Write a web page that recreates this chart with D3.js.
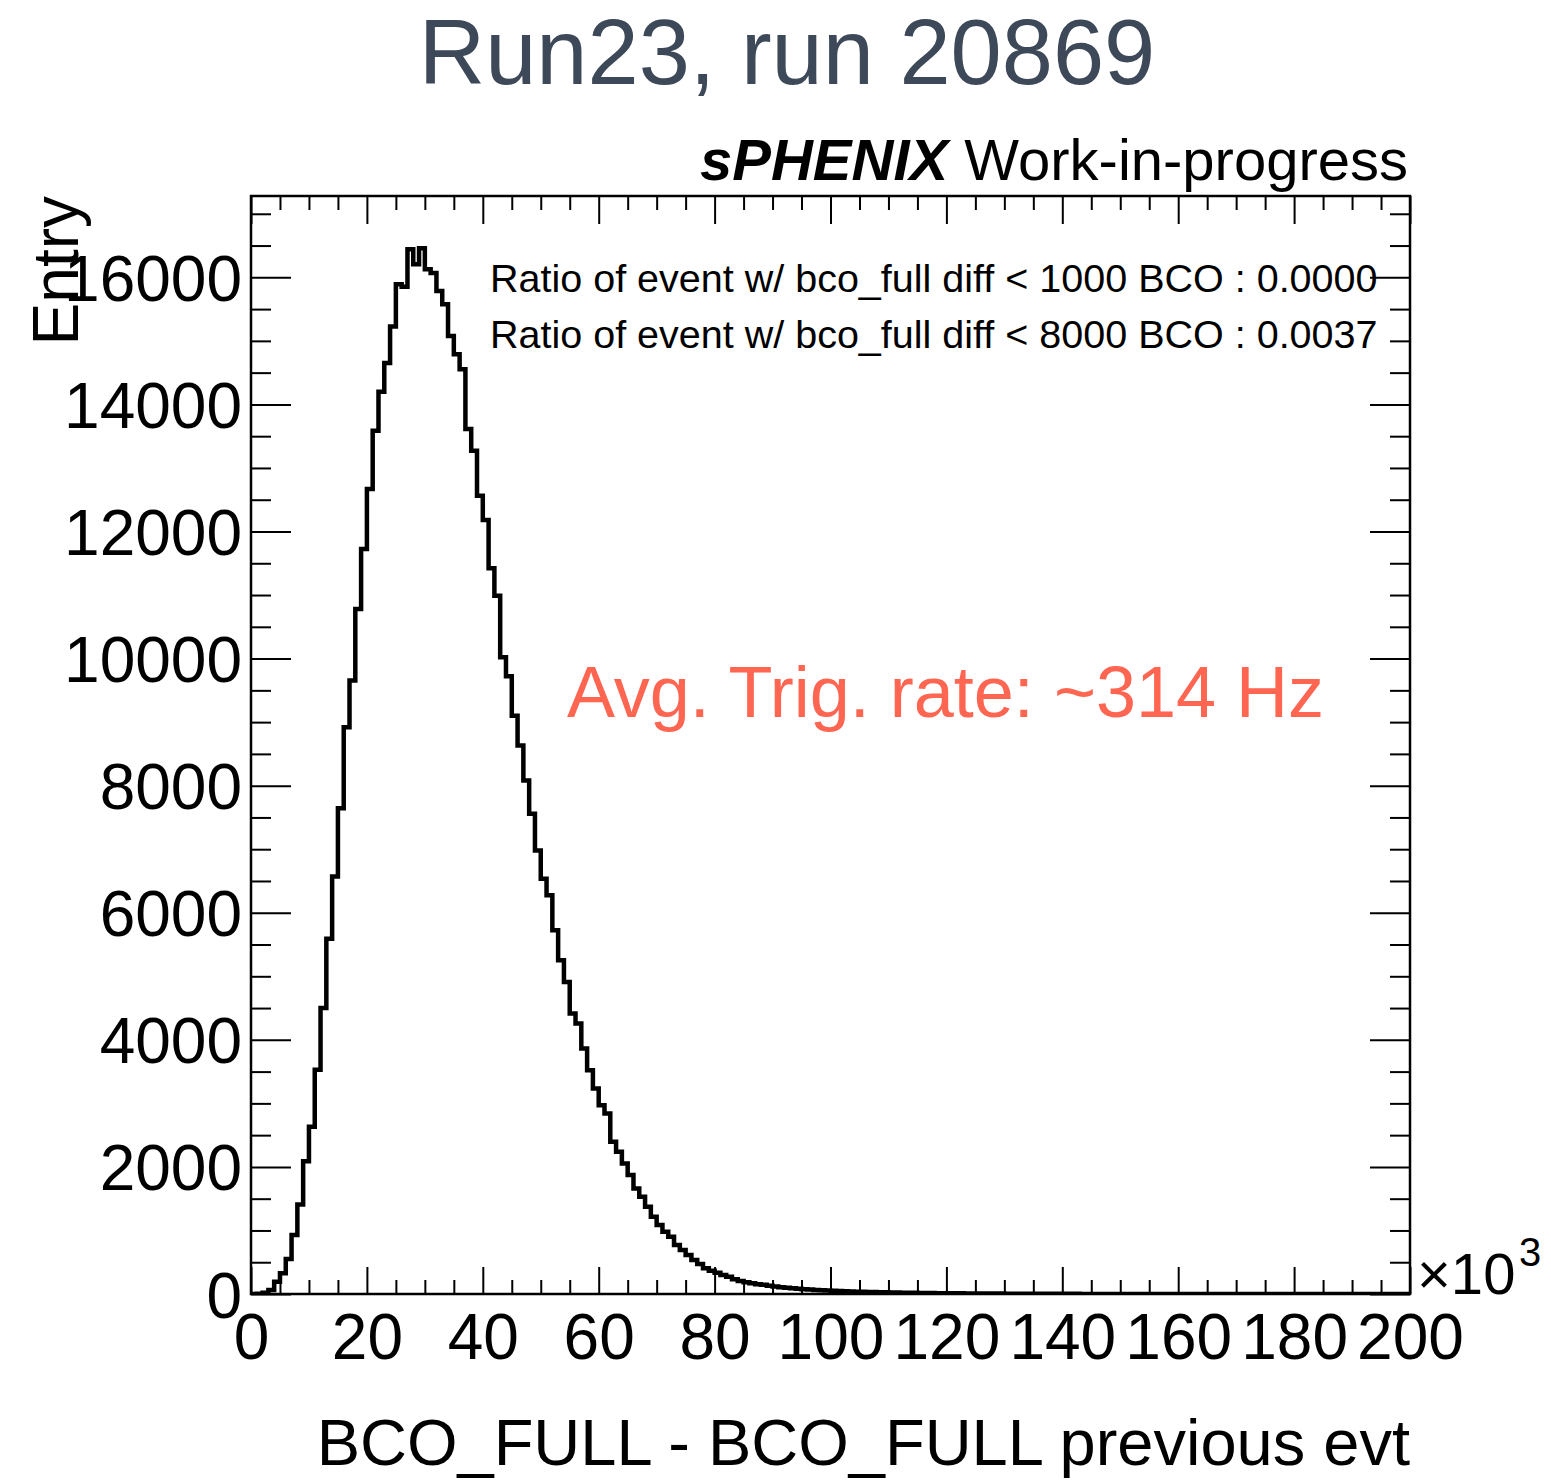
<!DOCTYPE html>
<html lang="en">
<head>
<meta charset="utf-8">
<title>BCO_FULL difference</title>
<script src="https://d3js.org/d3.v7.min.js"></script>
<style>
  body { margin: 0; background: #fff; }
  text { font-family: "Liberation Sans", Arial, sans-serif; }
</style>
</head>
<body>
<script type="text/javascript">
var w = 1551;
var h = 1484;

// frame of the ROOT pad
var frameL = 251, frameR = 1410, frameT = 196, frameB = 1294;

// histogram: 200 bins of 1000 BCO (x axis in units of 10^3)
var binWidth = 1;
var counts = [
  0, 5, 20, 63, 194, 325, 550, 928, 1410, 2091,
  2631, 3530, 4502, 5592, 6572, 7646, 8920, 9654, 10781, 11725,
  12668, 13585, 14198, 14650, 15225, 15890, 15850, 16442, 16205, 16457,
  16127, 16070, 15786, 15577, 15078, 14790, 14555, 13612, 13270, 12563,
  12180, 11420, 10990, 10020, 9720, 9100, 8632, 8082, 7558, 6981,
  6536, 6274, 5723, 5252, 4911, 4413, 4256, 3863, 3522, 3234,
  2972, 2841, 2395, 2238, 2055, 1871, 1661, 1530, 1373, 1215,
  1085, 980, 901, 770, 692, 613, 535, 472, 404, 367,
  336, 299, 272, 231, 204, 185, 170, 155, 145, 128,
  118, 105, 98, 90, 82, 76, 70, 64, 58, 54,
  50, 46, 43, 40, 37, 35, 32, 30, 28, 26,
  24, 22, 21, 19, 18, 17, 15, 14, 13, 12,
  11, 10, 10, 9, 8, 8, 7, 7, 6, 6,
  5, 5, 4, 4, 4, 3, 3, 3, 3, 2,
  2, 2, 2, 1, 1, 1, 1, 1, 1, 0,
  0, 1, 0, 0, 0, 0, 0, 1, 0, 0,
  0, 0, 0, 0, 0, 0, 0, 0, 0, 0,
  0, 0, 0, 0, 0, 0, 0, 0, 0, 0,
  0, 0, 0, 0, 0, 0, 0, 0, 0, 0,
  0, 0, 0, 0, 0, 0, 0, 0, 0, 0
];

var xMajor = [0, 20, 40, 60, 80, 100, 120, 140, 160, 180, 200];
var yMajor = [0, 2000, 4000, 6000, 8000, 10000, 12000, 14000, 16000];

var titleText = "Run23, run 20869";
var xTitle = "BCO_FULL - BCO_FULL previous evt";
var yTitle = "Entry";
var ratioLines = [
  "Ratio of event w/ bco_full diff < 1000 BCO : 0.0000",
  "Ratio of event w/ bco_full diff < 8000 BCO : 0.0037"
];
var rateText = "Avg. Trig. rate: ~314 Hz";

var xScale = d3.scaleLinear().domain([0, 200]).range([frameL, frameR]);
var yScale = d3.scaleLinear()
               .domain([0, d3.max(counts) * 1.05])
               .range([frameB, frameT]);

var svg = d3.select("body")
            .append("svg")
            .attr("width", w)
            .attr("height", h);

svg.append("rect").attr("width", w).attr("height", h).attr("fill", "#fff");

var xMinor = d3.range(0, 201, 5).filter(function(d){ return d % 20 !== 0; });
var yMinor = d3.range(0, yScale.domain()[1], 500).filter(function(d){ return d % 2000 !== 0; });

// helper: draw ticks with d3 axis, inward, no domain line
function ticks(axis, tx, ty, values, size, labels){
  var g = svg.append("g")
             .attr("transform", "translate(" + tx + "," + ty + ")")
             .call(axis.tickValues(values).tickSize(-size)
                       .tickFormat(labels ? d3.format("d") : ""));
  g.select(".domain").remove();
  g.selectAll("line").attr("stroke", "#000").attr("stroke-width", 2);
  return g;
}

ticks(d3.axisBottom(xScale), 0, frameB, xMinor, 14, false);
ticks(d3.axisTop(xScale), 0, frameT, xMinor, 14, false);
ticks(d3.axisTop(xScale), 0, frameT, xMajor, 28, false);
var gx = ticks(d3.axisBottom(xScale).tickPadding(20), 0, frameB, xMajor, 27, true);
gx.selectAll("text")
  .attr("font-family", "Liberation Sans, Arial, sans-serif")
  .attr("font-size", "64px")
  .attr("fill", "#000");

ticks(d3.axisLeft(yScale), frameL, 0, yMinor, 20, false);
ticks(d3.axisRight(yScale), frameR, 0, yMinor, 20, false);
ticks(d3.axisRight(yScale), frameR, 0, yMajor, 40, false);
var gy = ticks(d3.axisLeft(yScale).tickPadding(9), frameL, 0, yMajor, 40, true);
gy.selectAll("text")
  .attr("font-family", "Liberation Sans, Arial, sans-serif")
  .attr("font-size", "64px")
  .attr("dy", "0.36em")
  .attr("fill", "#000");

// histogram steps
svg.append("clipPath").attr("id", "frame")
   .append("rect")
   .attr("x", frameL).attr("y", frameT)
   .attr("width", frameR - frameL).attr("height", frameB - frameT);

var pts = [[0, 0]];
counts.forEach(function(c, i){
  pts.push([i * binWidth, c]);
  pts.push([(i + 1) * binWidth, c]);
});
pts.push([counts.length * binWidth, 0]);

var line = d3.line()
             .x(function(d){ return xScale(d[0]); })
             .y(function(d){ return yScale(d[1]); });

svg.append("path")
   .datum(pts)
   .attr("d", line)
   .attr("fill", "none")
   .attr("stroke", "#000")
   .attr("stroke-width", 4.5)
   .attr("stroke-linejoin", "miter")
   .attr("clip-path", "url(#frame)");

// frame
svg.append("rect")
   .attr("x", frameL).attr("y", frameT)
   .attr("width", frameR - frameL).attr("height", frameB - frameT)
   .attr("fill", "none")
   .attr("stroke", "#000")
   .attr("stroke-width", 2.5);

// x10^3 exponent
svg.append("text").attr("x", 1417).attr("y", 1294)
   .attr("font-size", "58px").text("\u00d710");
svg.append("text").attr("x", 1519).attr("y", 1266)
   .attr("font-size", "40px").text("3");

// axis titles
svg.append("text")
   .attr("x", frameR).attr("y", 1465)
   .attr("text-anchor", "end")
   .attr("font-size", "65px")
   .text(xTitle);

svg.append("text")
   .attr("transform", "translate(78," + frameT + ") rotate(-90)")
   .attr("text-anchor", "end")
   .attr("font-size", "64px")
   .text(yTitle);

// slide title
svg.append("text")
   .attr("x", 787).attr("y", 84)
   .attr("text-anchor", "middle")
   .attr("font-size", "92px")
   .attr("fill", "#3d4858")
   .text(titleText);

// experiment label
var lab = svg.append("text")
             .attr("x", 1408).attr("y", 180)
             .attr("text-anchor", "end")
             .attr("font-size", "58px");
lab.append("tspan").attr("font-weight", "bold").attr("font-style", "italic").text("sPHENIX");
lab.append("tspan").text(" Work-in-progress");

svg.selectAll(".ratio")
   .data(ratioLines)
   .enter()
   .append("text")
   .attr("class", "ratio")
   .attr("x", 490)
   .attr("y", function(d, i){ return 292 + i * 56; })
   .attr("font-size", "39.5px")
   .text(function(d){ return d; });

svg.append("text")
   .attr("x", 567).attr("y", 717)
   .attr("font-size", "72px")
   .attr("fill", "#ff6652")
   .text(rateText);
</script>
</body>
</html>
